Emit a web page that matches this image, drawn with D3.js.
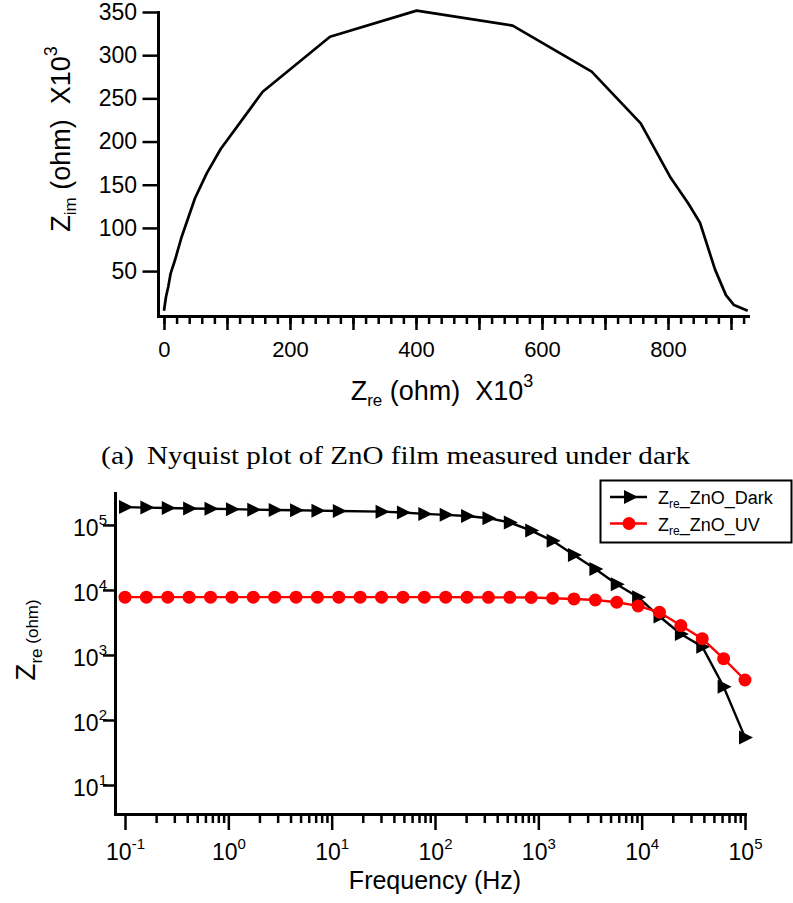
<!DOCTYPE html>
<html>
<head>
<meta charset="utf-8">
<script src="https://cdn.jsdelivr.net/npm/d3@7"></script>
<style>
  body { margin: 0; background: #fff; }
  svg text { font-family: "Liberation Sans", Arial, Helvetica, sans-serif; fill: #000; white-space: pre; }
  svg text.serif { font-family: "Liberation Serif", "Times New Roman", serif; }
</style>
</head>
<body>
<svg id="fig" width="793" height="903"></svg>
<script>
// ---- Nyquist plot of the ZnO film in the dark (values in units of 10^3 ohm) ----
const nyqZre = [0, 3.2, 6.8, 10.6, 17.5, 28.1, 49.2, 67.8, 90, 156.7, 263.5, 401, 553.5, 678.9, 756.7, 803.2, 832, 850.8, 874.6, 892, 904.8, 926.5];
const nyqZim = [4.1, 20.3, 31.9, 47.4, 62.8, 89.8, 134.3, 163.2, 191.4, 257.7, 321.4, 351.6, 334.2, 280.9, 221.1, 159.3, 128.5, 106, 52, 22.2, 10.7, 4.1];
const nyqXTickLabels = [0, 200, 400, 600, 800];
const nyqYTickLabels = [50, 100, 150, 200, 250, 300, 350];

// ---- Real impedance vs frequency, dark and UV ----
const freqHz = [0.1, 0.161, 0.2593, 0.4175, 0.6723, 1.083, 1.743, 2.807, 4.52, 7.279,
                11.72, 18.87, 30.39, 48.93, 78.79, 126.9, 204.3, 329, 529.8, 853.1,
                1374, 2212, 3562, 5736, 9237, 14874, 23950, 38566, 62102, 100000];
const zreDark = [1.88e5, 1.85e5, 1.82e5, 1.79e5, 1.77e5, 1.75e5, 1.72e5, 1.70e5, 1.68e5, 1.66e5,
                 1.64e5, null, 1.60e5, 1.55e5, 1.48e5, 1.43e5, 1.37e5, 1.27e5, 1.09e5, 8.2e4,
                 5.7e4, 3.45e4, 2.1e4, 1.22e4, 7.7e3, 3.9e3, 2.1e3, 1.34e3, 324, 54];
const zreUV = [7.75e3, 7.75e3, 7.75e3, 7.75e3, 7.75e3, 7.75e3, 7.75e3, 7.75e3, 7.75e3, 7.75e3,
               7.75e3, 7.75e3, 7.75e3, 7.75e3, 7.75e3, 7.75e3, 7.72e3, 7.7e3, 7.7e3, 7.65e3,
               7.45e3, 7.27e3, 7.0e3, 6.47e3, 5.68e3, 4.54e3, 2.83e3, 1.78e3, 877, 412];
const freqTickExps = [-1, 0, 1, 2, 3, 4, 5];
const zreTickExps = [1, 2, 3, 4, 5];
const legendNames = ["_ZnO_Dark", "_ZnO_UV"];
const seriesColors = ["#000000", "#ff0000"];
const captionLabel = "(a)";
const captionText = "Nyquist plot of ZnO film measured under dark";

const svg = d3.select("#fig");

function styleAxis(g, domainW, tickW, fontPx) {
  g.select(".domain").attr("stroke", "#000").attr("stroke-width", domainW).attr("stroke-linecap", "square");
  g.selectAll(".tick line").attr("stroke", "#000").attr("stroke-width", tickW);
  g.selectAll(".tick text").attr("font-size", fontPx + "px").attr("fill", "#000")
    .attr("font-family", "'Liberation Sans', Arial, sans-serif");
}

// ================= Top panel: Nyquist =================
const xN = d3.scaleLinear().domain([-9.5, 927]).range([158, 748]);
const yN = d3.scaleLinear().domain([-2, 350]).range([316, 12]);

const nyqPanel = svg.append("g");

// minor x ticks every 20
const xMinor = nyqPanel.append("g").attr("transform", `translate(0,${yN.range()[0]})`)
  .call(d3.axisBottom(xN).tickValues(d3.range(0, 921, 20)).tickSize(8).tickFormat(""));
xMinor.select(".domain").remove();
xMinor.selectAll(".tick line").attr("stroke", "#000").attr("stroke-width", 2.5);

// major x ticks every 100, labels every 200
const xMajor = nyqPanel.append("g").attr("transform", `translate(0,${yN.range()[0]})`)
  .call(d3.axisBottom(xN).tickValues(d3.range(0, 901, 100)).tickSize(14).tickSizeOuter(0).tickPadding(11)
    .tickFormat(d => nyqXTickLabels.includes(d) ? String(d) : ""));
styleAxis(xMajor, 3, 2.5, 22);

const yAx = nyqPanel.append("g").attr("transform", `translate(${xN.range()[0]},0)`)
  .call(d3.axisLeft(yN).tickValues(nyqYTickLabels).tickSize(15.5).tickSizeOuter(0).tickPadding(5.5));
styleAxis(yAx, 3, 2.5, 23);

nyqPanel.append("path")
  .datum(nyqZre.map((x, i) => [x, nyqZim[i]]))
  .attr("fill", "none").attr("stroke", "#000").attr("stroke-width", 2.7).attr("stroke-linejoin", "round")
  .attr("d", d3.line().x(d => xN(d[0])).y(d => yN(d[1])));

// axis titles
const xt = nyqPanel.append("text").attr("x", 442).attr("y", 400).attr("text-anchor", "middle").attr("font-size", "27px");
xt.append("tspan").text("Z");
xt.append("tspan").attr("font-size", "17px").attr("dy", 6).text("re");
xt.append("tspan").attr("dy", -6).text(" (ohm)  X10");
xt.append("tspan").attr("font-size", "18px").attr("dy", -13).text("3");

const yt = nyqPanel.append("text").attr("transform", "translate(70,139) rotate(-90)").attr("text-anchor", "middle").attr("font-size", "27px");
yt.append("tspan").text("Z");
yt.append("tspan").attr("font-size", "17px").attr("dy", 6).text("im");
yt.append("tspan").attr("dy", -6).text(" (ohm)  X10");
yt.append("tspan").attr("font-size", "18px").attr("dy", -13).text("3");

// caption
svg.append("text").attr("class", "serif").attr("x", 101).attr("y", 464).attr("font-size", "25px")
  .attr("textLength", 33).attr("lengthAdjust", "spacingAndGlyphs").text(captionLabel);
svg.append("text").attr("class", "serif").attr("x", 147).attr("y", 464).attr("font-size", "25px")
  .attr("textLength", 543).attr("lengthAdjust", "spacingAndGlyphs").text(captionText);

// ================= Bottom panel: Z_re vs frequency =================
const xF = d3.scaleLog().domain([0.08, 1e5]).range([115, 745]);
const yZ = d3.scaleLog().domain([3.58, 3.1e5]).range([814, 493]);

const bodePanel = svg.append("g");

function supLabels(sel) {
  sel.selectAll(".tick text").each(function (d) {
    const t = d3.select(this);
    const e = Math.round(Math.log10(d));
    t.text(null);
    t.append("tspan").text("10");
    t.append("tspan").attr("font-size", "15px").attr("dy", "-0.75em").text(String(e));
  });
}

// minor frequency ticks (2..9 per decade)
const minorF = [];
freqTickExps.slice(0, -1).forEach(e => { for (let m = 2; m <= 9; m++) minorF.push(m * Math.pow(10, e)); });
const fMinor = bodePanel.append("g").attr("transform", `translate(0,${yZ.range()[0]})`)
  .call(d3.axisBottom(xF).tickValues(minorF).tickSize(9).tickFormat(""));
fMinor.select(".domain").remove();
fMinor.selectAll(".tick line").attr("stroke", "#000").attr("stroke-width", 2.5);

const fMajor = bodePanel.append("g").attr("transform", `translate(0,${yZ.range()[0]})`)
  .call(d3.axisBottom(xF).tickValues(freqTickExps.map(e => Math.pow(10, e))).tickSize(16).tickSizeOuter(0).tickPadding(14));
styleAxis(fMajor, 3, 2.5, 23);
supLabels(fMajor);

const zAx = bodePanel.append("g").attr("transform", `translate(${xF.range()[0]},0)`)
  .call(d3.axisLeft(yZ).tickValues(zreTickExps.map(e => Math.pow(10, e))).tickSize(12).tickSizeOuter(0).tickPadding(-4));
styleAxis(zAx, 3, 2.5, 23);
zAx.selectAll(".tick text").attr("dy", "0.46em");
supLabels(zAx);

// series
const triPath = "M-6,-7L8,0L-6,7Z";
const series = [zreDark, zreUV].map((vals, i) =>
  freqHz.map((f, k) => ({ f, v: vals[k] })).filter(d => d.v != null));

series.forEach((pts, i) => {
  const g = bodePanel.append("g");
  g.append("path").datum(pts).attr("fill", "none").attr("stroke", seriesColors[i]).attr("stroke-width", 2.4)
    .attr("d", d3.line().x(d => xF(d.f)).y(d => yZ(d.v)));
  if (i === 0) {
    g.selectAll("path.m").data(pts).enter().append("path").attr("class", "m")
      .attr("transform", d => `translate(${xF(d.f)},${yZ(d.v)})`).attr("d", triPath).attr("fill", seriesColors[i]);
  } else {
    g.selectAll("circle").data(pts).enter().append("circle")
      .attr("cx", d => xF(d.f)).attr("cy", d => yZ(d.v)).attr("r", 6.5).attr("fill", seriesColors[i]);
  }
});

// axis titles
bodePanel.append("text").attr("x", 435).attr("y", 889).attr("text-anchor", "middle").attr("font-size", "25px").text("Frequency (Hz)");

const zt = bodePanel.append("text").attr("transform", "translate(35,640) rotate(-90)").attr("text-anchor", "middle").attr("font-size", "28px");
zt.append("tspan").text("Z");
zt.append("tspan").attr("font-size", "17px").attr("dy", 7).text("re");
zt.append("tspan").attr("font-size", "17px").attr("dy", -4).text(" (ohm)");

// legend
const lg = bodePanel.append("g");
lg.append("rect").attr("x", 600.5).attr("y", 480.5).attr("width", 191).attr("height", 62)
  .attr("fill", "#fff").attr("stroke", "#000").attr("stroke-width", 2);
legendNames.forEach((name, i) => {
  const cy = 497 + i * 26.5;
  lg.append("line").attr("x1", 610).attr("x2", 647).attr("y1", cy).attr("y2", cy)
    .attr("stroke", seriesColors[i]).attr("stroke-width", 2.4);
  if (i === 0) lg.append("path").attr("transform", `translate(630,${cy})`).attr("d", triPath).attr("fill", seriesColors[i]);
  else lg.append("circle").attr("cx", 629).attr("cy", cy).attr("r", 6.5).attr("fill", seriesColors[i]);
  const t = lg.append("text").attr("x", 658).attr("y", cy + 7).attr("font-size", "18px");
  t.append("tspan").text("Z");
  t.append("tspan").attr("font-size", "12px").attr("dy", 4).text("re");
  t.append("tspan").attr("dy", -4).text(name);
});
</script>
</body>
</html>
